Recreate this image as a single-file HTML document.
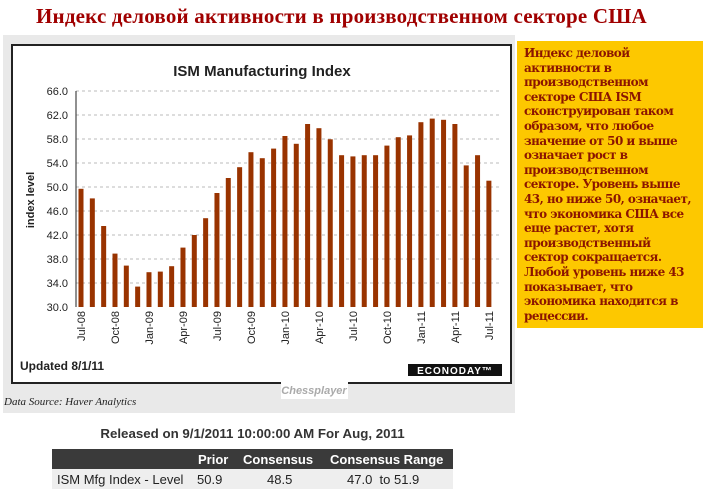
<!DOCTYPE html>
<html><head><meta charset="utf-8"><style>
body{margin:0;width:709px;height:497px;background:#fff;position:relative;overflow:hidden;font-family:"Liberation Sans",Arial,sans-serif}
.abs{position:absolute}
</style></head><body>
<div class="abs" style="left:36px;top:4px;font:bold 21px 'Liberation Serif',serif;color:#a00000;white-space:nowrap;letter-spacing:0.2px">Индекс деловой активности в производственном секторе США</div>
<div class="abs" style="left:3px;top:35px;width:512px;height:378px;background:#e9e9e9"></div>
<div class="abs" style="left:11px;top:44px;width:497px;height:336px;border:2px solid #222;background:#fff"></div>
<svg class="abs" style="left:0;top:0" width="709" height="497">
<text x="262" y="76" text-anchor="middle" font-family="Liberation Sans" font-weight="bold" font-size="15" fill="#222">ISM Manufacturing Index</text>
<g id="grid" stroke="#bbb" stroke-dasharray="3,3" stroke-width="1"></g>
<g id="lab" font-family="Liberation Sans" font-size="11" fill="#222" text-anchor="end"></g>
<line x1="76" y1="91" x2="76" y2="307" stroke="#222"/>
<g id="bars" fill="#993300"></g>
<g id="xl" font-family="Liberation Sans" font-size="11" fill="#222"></g>
<text transform="translate(34,200) rotate(-90)" text-anchor="middle" font-family="Liberation Sans" font-weight="bold" font-size="11" fill="#222">index level</text>
<text x="20" y="370" font-family="Liberation Sans" font-weight="bold" font-size="12" fill="#222">Updated 8/1/11</text>
<rect x="408" y="364" width="94" height="12" fill="#111"/>
<text x="455" y="374" text-anchor="middle" font-family="Liberation Sans" font-weight="bold" font-size="10" fill="#fff" letter-spacing="1">ECONODAY™</text>
<rect x="281" y="380" width="67" height="19" fill="#fff"/>
<text x="314" y="394" text-anchor="middle" font-family="Liberation Sans" font-weight="bold" font-style="italic" font-size="11" fill="#aaa">Chessplayer</text>
<text x="4" y="405" font-family="Liberation Serif" font-style="italic" font-size="11" fill="#222">Data Source: Haver Analytics</text>
</svg>
<div class="abs" style="left:517px;top:41px;width:186px;height:287px;background:#fdc800"></div>
<div class="abs" style="left:524px;top:46px;white-space:nowrap;font:bold 12px/14.6px 'DejaVu Serif',serif;letter-spacing:-0.55px;color:#8b1500">Индекс деловой<br>активности в<br>производственном<br>секторе США ISM<br>сконструирован таком<br>образом, что любое<br>значение от 50 и выше<br>означает рост в<br>производственном<br>секторе. Уровень выше<br>43, но ниже 50, означает,<br>что экономика США все<br>еще растет, хотя<br>производственный<br>сектор сокращается.<br>Любой уровень ниже 43<br>показывает, что<br>экономика находится в<br>рецессии.</div>
<div class="abs" style="left:52px;top:426px;width:401px;text-align:center;font:bold 13.3px 'Liberation Sans',sans-serif;color:#333">Released on 9/1/2011 10:00:00 AM For Aug, 2011</div>
<div class="abs" style="left:52px;top:449px;width:401px;height:20px;background:#3a3a3a"></div>
<div class="abs" style="left:52px;top:469px;width:401px;height:20px;background:#eee"></div>
<div class="abs" style="top:452px;left:198px;font:bold 13px 'Liberation Sans';color:#fff">Prior</div>
<div class="abs" style="top:452px;left:243px;font:bold 13px 'Liberation Sans';color:#fff">Consensus</div>
<div class="abs" style="top:452px;left:330px;font:bold 13px 'Liberation Sans';color:#fff">Consensus Range</div>
<div class="abs" style="top:472px;left:57px;font:13px 'Liberation Sans';color:#222;white-space:nowrap">ISM Mfg Index - Level</div>
<div class="abs" style="top:472px;left:197px;font:13px 'Liberation Sans';color:#222">50.9</div>
<div class="abs" style="top:472px;left:267px;font:13px 'Liberation Sans';color:#222">48.5</div>
<div class="abs" style="top:472px;left:347px;font:13px 'Liberation Sans';color:#222;white-space:pre">47.0  to 51.9</div>
<script>
var ns="http://www.w3.org/2000/svg";
function el(p,t,a,txt){var e=document.createElementNS(ns,t);for(var k in a)e.setAttribute(k,a[k]);if(txt)e.textContent=txt;document.getElementById(p).appendChild(e);}
for(var v=30;v<=66;v+=4){var y=91+(66-v)*6;if(v>30)el("grid","line",{x1:76,x2:500,y1:y,y2:y});el("lab","text",{x:68,y:y+4},v.toFixed(1));}
var d=[49.7,48.1,43.5,38.9,36.9,33.4,35.8,35.9,36.8,39.9,42.0,44.8,49.0,51.5,53.3,55.8,54.8,56.4,58.5,57.2,60.5,59.8,57.95,55.3,55.1,55.3,55.3,56.9,58.3,58.6,60.8,61.4,61.2,60.5,53.6,55.3,51.05];
var L=["Jul-08","Oct-08","Jan-09","Apr-09","Jul-09","Oct-09","Jan-10","Apr-10","Jul-10","Oct-10","Jan-11","Apr-11","Jul-11"];
for(var i=0;i<37;i++){var x=81+i*11.33;var y=91+(66-d[i])*6;el("bars","rect",{x:x-2.5,y:y,width:5,height:307-y});
if(i%3==0){el("xl","text",{transform:"translate("+(x+4)+",311) rotate(-90)","text-anchor":"end"},L[i/3]);}}
</script>
</body></html>
